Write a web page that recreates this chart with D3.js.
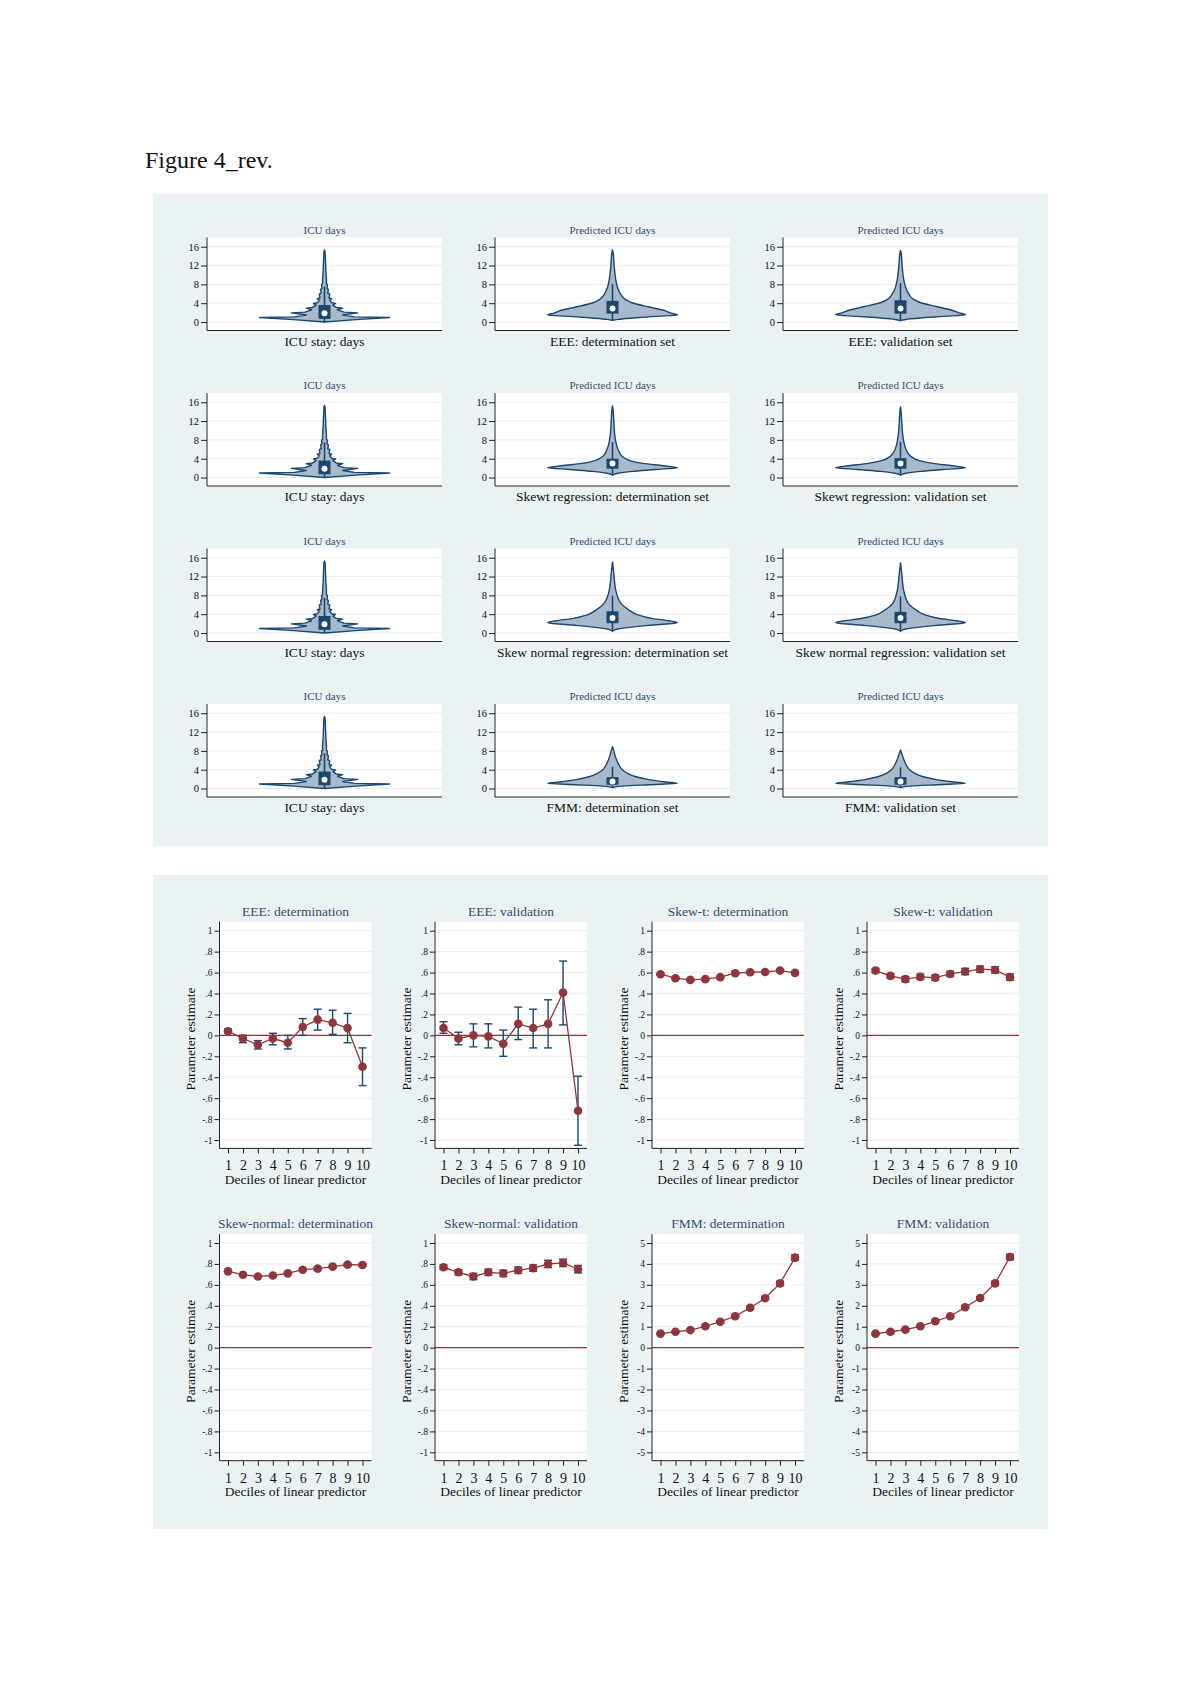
<!DOCTYPE html>
<html>
<head>
<meta charset="utf-8">
<script src="https://cdn.jsdelivr.net/npm/d3@7"></script>
<style>
  body { margin: 0; background: #fff; }
  svg { display: block; font-family: "Liberation Serif", "Times New Roman", serif; }
</style>
</head>
<body>
<div id="fig"></div>
<script>
// ---------- data: violin plots ----------
const violinTitles = ["ICU days", "Predicted ICU days", "Predicted ICU days"];
const violinLabels = [
  ["ICU stay: days", "EEE: determination set", "EEE: validation set"],
  ["ICU stay: days", "Skewt regression: determination set", "Skewt regression: validation set"],
  ["ICU stay: days", "Skew normal regression: determination set", "Skew normal regression: validation set"],
  ["ICU stay: days", "FMM: determination set", "FMM: validation set"]
];
const violinTicks = [0, 4, 8, 12, 16];

// outline: [days, relative half width]
const icuDensity = [[0,0],[0.5,0.48],[0.95,1.0],[1.1,0.46],[1.5,0.28],[1.95,0.51],[2.1,0.3],[2.6,0.2],[2.95,0.28],[3.1,0.18],[3.6,0.13],[3.95,0.17],[4.1,0.11],[4.6,0.08],[4.95,0.11],[5.1,0.07],[5.95,0.08],[6.1,0.05],[6.95,0.06],[7.1,0.04],[7.95,0.045],[8.1,0.03],[9,0.03],[10,0.025],[11,0.02],[12,0.018],[13,0.015],[14,0.012],[15,0.008],[15.3,0]];
const eeeDetDensity = [[0.35,0],[0.57,0.08],[0.85,0.31],[1.2,0.67],[1.5,1.0],[1.9,0.9],[2.5,0.79],[3.2,0.56],[4.05,0.31],[4.77,0.2],[5.83,0.13],[7.25,0.08],[9,0.05],[11.9,0.026],[14.7,0.01],[15.3,0]];
const eeeValDensity = [[0.3,0],[0.55,0.08],[0.85,0.3],[1.2,0.66],[1.55,1.0],[1.95,0.9],[2.6,0.77],[3.3,0.55],[4.1,0.31],[4.8,0.2],[5.9,0.13],[7.3,0.08],[9,0.05],[12,0.025],[14.6,0.01],[15.2,0]];
const skewtDetDensity = [[0.5,0],[0.9,0.08],[1.3,0.3],[1.7,0.66],[2.1,1.0],[2.5,0.78],[3.0,0.47],[3.6,0.27],[4.5,0.15],[5.5,0.1],[7,0.06],[9,0.035],[12,0.02],[14.5,0.008],[15.2,0]];
const skewtValDensity = [[0.5,0],[0.9,0.08],[1.3,0.3],[1.7,0.66],[2.1,1.0],[2.5,0.8],[3.0,0.5],[3.6,0.29],[4.5,0.16],[5.5,0.1],[7,0.06],[9,0.035],[12,0.018],[14.3,0.007],[15.0,0]];
const snDetDensity = [[0.4,0],[0.85,0.08],[1.2,0.26],[1.7,0.62],[2.2,1.0],[2.6,0.87],[3.06,0.62],[3.9,0.38],[4.8,0.26],[6.3,0.13],[9.1,0.05],[12.7,0.02],[15.1,0]];
const snValDensity = [[0.4,0],[0.85,0.08],[1.2,0.26],[1.7,0.62],[2.2,1.0],[2.6,0.87],[3.1,0.6],[3.9,0.37],[4.8,0.25],[6.3,0.12],[9.0,0.05],[12.5,0.02],[14.9,0]];
const fmmDetDensity = [[0.2,0],[0.5,0.15],[0.8,0.56],[1.1,1.0],[1.4,0.82],[1.9,0.56],[2.5,0.36],[3.2,0.23],[4,0.15],[5,0.1],[6,0.065],[7,0.04],[8,0.02],[8.9,0]];
const fmmValDensity = [[0.2,0],[0.5,0.15],[0.8,0.56],[1.1,1.0],[1.4,0.82],[1.9,0.55],[2.5,0.35],[3.2,0.22],[4,0.14],[5,0.09],[6,0.055],[7,0.03],[7.6,0.015],[8.2,0]];

// box: [lower adjacent, q1, median, q3, upper adjacent]
const icuBox = [0, 0.8, 1.85, 3.5, 7.5];
const eeeDetBox = [0.35, 1.9, 2.85, 4.4, 8.1];
const eeeValBox = [0.3, 1.9, 2.9, 4.5, 8.3];
const skewtDetBox = [0.5, 2.0, 3.0, 3.9, 7.5];
const skewtValBox = [0.5, 2.0, 3.0, 4.0, 7.6];
const snDetBox = [0.4, 2.2, 3.2, 4.5, 7.9];
const snValBox = [0.4, 2.2, 3.2, 4.4, 7.8];
const fmmDetBox = [0.2, 0.9, 1.5, 2.3, 4.6];
const fmmValBox = [0.2, 0.9, 1.5, 2.3, 4.5];

// ---------- data: decile plots ----------
const deciles = [1, 2, 3, 4, 5, 6, 7, 8, 9, 10];
const lineTitles = ["EEE: determination", "EEE: validation", "Skew-t: determination", "Skew-t: validation",
  "Skew-normal: determination", "Skew-normal: validation", "FMM: determination", "FMM: validation"];
const unitTicks = [1, 0.8, 0.6, 0.4, 0.2, 0, -0.2, -0.4, -0.6, -0.8, -1];
const unitTickLabels = ["1", ".8", ".6", ".4", ".2", "0", "-.2", "-.4", "-.6", "-.8", "-1"];
const fmmTicks = [5, 4, 3, 2, 1, 0, -1, -2, -3, -4, -5];
const fmmTickLabels = ["5", "4", "3", "2", "1", "0", "-1", "-2", "-3", "-4", "-5"];

const eeeDetEst = [0.04, -0.03, -0.09, -0.03, -0.07, 0.08, 0.15, 0.12, 0.07, -0.30];
const eeeDetLo  = [0.02, -0.07, -0.13, -0.09, -0.13, 0.00, 0.05, 0.01, -0.07, -0.48];
const eeeDetHi  = [0.06, 0.00, -0.05, 0.02, 0.00, 0.16, 0.25, 0.24, 0.21, -0.12];

const eeeValEst = [0.07, -0.03, 0.00, -0.01, -0.08, 0.11, 0.07, 0.11, 0.41, -0.72];
const eeeValLo  = [0.02, -0.09, -0.11, -0.12, -0.20, -0.04, -0.12, -0.12, 0.10, -1.05];
const eeeValHi  = [0.13, 0.03, 0.11, 0.11, 0.05, 0.27, 0.25, 0.34, 0.71, -0.39];

const skewtDetEst = [0.584, 0.546, 0.53, 0.537, 0.556, 0.594, 0.603, 0.606, 0.619, 0.597];
const skewtDetLo  = [0.574, 0.536, 0.52, 0.527, 0.545, 0.583, 0.592, 0.595, 0.607, 0.585];
const skewtDetHi  = [0.594, 0.556, 0.54, 0.547, 0.567, 0.605, 0.614, 0.617, 0.631, 0.609];

const skewtValEst = [0.619, 0.568, 0.537, 0.559, 0.552, 0.587, 0.61, 0.632, 0.625, 0.556];
const skewtValLo  = [0.599, 0.548, 0.512, 0.534, 0.527, 0.562, 0.58, 0.602, 0.595, 0.526];
const skewtValHi  = [0.639, 0.588, 0.562, 0.584, 0.577, 0.612, 0.64, 0.662, 0.655, 0.586];

const snDetEst = [0.729, 0.697, 0.68, 0.69, 0.71, 0.745, 0.755, 0.774, 0.793, 0.79];
const snDetLo  = [0.719, 0.687, 0.67, 0.68, 0.699, 0.734, 0.744, 0.762, 0.781, 0.777];
const snDetHi  = [0.739, 0.707, 0.69, 0.70, 0.721, 0.756, 0.766, 0.786, 0.805, 0.803];

const snValEst = [0.768, 0.72, 0.68, 0.72, 0.71, 0.74, 0.76, 0.80, 0.81, 0.75];
const snValLo  = [0.748, 0.695, 0.65, 0.69, 0.68, 0.71, 0.73, 0.765, 0.775, 0.715];
const snValHi  = [0.788, 0.745, 0.71, 0.75, 0.74, 0.77, 0.79, 0.835, 0.845, 0.785];

const fmmDetEst = [0.67, 0.76, 0.84, 1.02, 1.24, 1.5, 1.91, 2.36, 3.07, 4.3];
const fmmDetLo  = [0.63, 0.72, 0.80, 0.98, 1.19, 1.45, 1.85, 2.29, 2.97, 4.17];
const fmmDetHi  = [0.71, 0.80, 0.88, 1.06, 1.29, 1.55, 1.97, 2.43, 3.17, 4.43];

const fmmValEst = [0.67, 0.76, 0.86, 1.02, 1.26, 1.5, 1.93, 2.37, 3.07, 4.33];
const fmmValLo  = [0.63, 0.72, 0.82, 0.98, 1.21, 1.45, 1.87, 2.30, 2.97, 4.20];
const fmmValHi  = [0.71, 0.80, 0.90, 1.06, 1.31, 1.55, 1.99, 2.44, 3.17, 4.46];

// ---------- colours ----------
const bgBlue = "#eaf2f3";
const gridCol = "#e6eef1";
const navy = "#1a476f";
const maroon = "#90353b";
const zeroRed = "#a32a3c";
const violinFill = "#a9b9cc";
const titleCol = "#3b4c6b";

const width = 1200, height = 1698;

const svg = d3.select("#fig").append("svg")
  .attr("width", width)
  .attr("height", height);

svg.append("rect").attr("width", width).attr("height", height).attr("fill", "#fff");

svg.append("text")
  .attr("x", 145).attr("y", 168)
  .style("font-size", "24px")
  .attr("fill", "#111")
  .text("Figure 4_rev.");

// panel backgrounds
svg.append("rect").attr("x", 153).attr("y", 194).attr("width", 895).attr("height", 652).attr("fill", bgBlue);
svg.append("rect").attr("x", 153).attr("y", 875).attr("width", 895).attr("height", 654).attr("fill", bgBlue);

// ================= violins =================
const vColX = [207, 495, 783];
const vRowY = [237.5, 393, 548.5, 704];
const vW = 235, vH = 93;

const violinData = [
  [[icuDensity, icuBox], [eeeDetDensity, eeeDetBox], [eeeValDensity, eeeValBox]],
  [[icuDensity, icuBox], [skewtDetDensity, skewtDetBox], [skewtValDensity, skewtValBox]],
  [[icuDensity, icuBox], [snDetDensity, snDetBox], [snValDensity, snValBox]],
  [[icuDensity, icuBox], [fmmDetDensity, fmmDetBox], [fmmValDensity, fmmValBox]]
];

violinData.forEach(function (row, r) {
  row.forEach(function (cell, c) {
    const dens = cell[0], box = cell[1];
    const g = svg.append("g").attr("transform", "translate(" + vColX[c] + "," + vRowY[r] + ")");
    const y = d3.scaleLinear().domain([-1.8, 17.96]).range([vH, 0]);
    const hw = d3.scaleLinear().domain([0, 1]).range([0, 65]);
    const cx = vW / 2;

    g.append("rect").attr("width", vW).attr("height", vH).attr("fill", "#fff");
    g.selectAll(".grid").data(violinTicks).enter().append("line")
      .attr("x1", 0).attr("x2", vW)
      .attr("y1", d => y(d)).attr("y2", d => y(d))
      .attr("stroke", gridCol).attr("stroke-width", 1);

    // violin body
    const area = d3.area()
      .y(d => y(d[0]))
      .x0(d => cx - hw(d[1]))
      .x1(d => cx + hw(d[1]))
      .curve(c === 0 ? d3.curveLinear : d3.curveMonotoneY);
    g.append("path").datum(dens).attr("d", area)
      .attr("fill", violinFill).attr("stroke", navy).attr("stroke-width", 1.4)
      .attr("stroke-linejoin", "round");

    // whisker, box, median
    g.append("line").attr("x1", cx).attr("x2", cx)
      .attr("y1", y(box[0])).attr("y2", y(box[4]))
      .attr("stroke", navy).attr("stroke-width", 1.6);
    g.append("rect").attr("x", cx - 5.5).attr("width", 11)
      .attr("y", y(box[3])).attr("height", y(box[1]) - y(box[3]))
      .attr("fill", navy).attr("stroke", navy);
    g.append("circle").attr("cx", cx).attr("cy", y(box[2])).attr("r", 3).attr("fill", "#fff");

    // axes
    const ya = g.append("g").call(d3.axisLeft(y).tickValues(violinTicks).tickSize(6).tickPadding(2));
    ya.select(".domain").attr("d", "M0," + vH + "V0").attr("stroke", "#222");
    ya.selectAll(".tick line").attr("stroke", "#222");
    ya.selectAll(".tick text").style("font-size", "10.5px").style("font-family", "Liberation Serif").attr("fill", "#111");
    g.append("line").attr("x1", 0).attr("x2", vW).attr("y1", vH).attr("y2", vH).attr("stroke", "#222").attr("stroke-width", 1.2);

    g.append("text").attr("x", cx).attr("y", -4).attr("text-anchor", "middle")
      .style("font-size", "11px").attr("fill", titleCol).text(violinTitles[c]);
    g.append("text").attr("x", cx).attr("y", 108).attr("text-anchor", "middle")
      .style("font-size", "13.5px").attr("fill", "#111").text(violinLabels[r][c]);
  });
});

// ================= decile plots =================
const lColX = [219.5, 435, 652, 867];
const lRowY = [921.7, 1234];
const lW = 152, lH = 226.7;

const lineSeries = [
  [eeeDetEst, eeeDetLo, eeeDetHi], [eeeValEst, eeeValLo, eeeValHi],
  [skewtDetEst, skewtDetLo, skewtDetHi], [skewtValEst, skewtValLo, skewtValHi],
  [snDetEst, snDetLo, snDetHi], [snValEst, snValLo, snValHi],
  [fmmDetEst, fmmDetLo, fmmDetHi], [fmmValEst, fmmValLo, fmmValHi]
];

lineSeries.forEach(function (s, i) {
  const r = Math.floor(i / 4), c = i % 4;
  const isFmm = i >= 6;
  const ticks = isFmm ? fmmTicks : unitTicks;
  const tickLabels = isFmm ? fmmTickLabels : unitTickLabels;
  const g = svg.append("g").attr("transform", "translate(" + lColX[c] + "," + lRowY[r] + ")");

  const x = d3.scaleLinear().domain([1, 10]).range([8.5, 143]);
  const y = d3.scaleLinear().domain(isFmm ? [-5.4, 5.43] : [-1.08, 1.086]).range([lH, 0]);

  g.append("rect").attr("width", lW).attr("height", lH).attr("fill", "#fff");
  g.selectAll(".grid").data(ticks).enter().append("line")
    .attr("x1", 0).attr("x2", lW)
    .attr("y1", d => y(d)).attr("y2", d => y(d))
    .attr("stroke", gridCol).attr("stroke-width", 1);

  // zero reference
  g.append("line").attr("x1", 0).attr("x2", lW).attr("y1", y(0)).attr("y2", y(0))
    .attr("stroke", zeroRed).attr("stroke-width", 1.3);

  const pts = deciles.map((d, k) => ({ d: d, est: s[0][k], lo: s[1][k], hi: s[2][k] }));

  // confidence intervals
  const ci = g.append("g").attr("stroke", navy).attr("stroke-width", 1.4);
  ci.selectAll(".v").data(pts).enter().append("line")
    .attr("x1", d => x(d.d)).attr("x2", d => x(d.d))
    .attr("y1", d => y(d.lo)).attr("y2", d => y(d.hi));
  ci.selectAll(".lo").data(pts).enter().append("line")
    .attr("x1", d => x(d.d) - 4).attr("x2", d => x(d.d) + 4)
    .attr("y1", d => y(d.lo)).attr("y2", d => y(d.lo));
  ci.selectAll(".hi").data(pts).enter().append("line")
    .attr("x1", d => x(d.d) - 4).attr("x2", d => x(d.d) + 4)
    .attr("y1", d => y(d.hi)).attr("y2", d => y(d.hi));

  // estimates
  g.append("path").datum(pts)
    .attr("d", d3.line().x(d => x(d.d)).y(d => y(d.est)))
    .attr("fill", "none").attr("stroke", maroon).attr("stroke-width", 1.3);
  g.selectAll(".pt").data(pts).enter().append("circle")
    .attr("cx", d => x(d.d)).attr("cy", d => y(d.est)).attr("r", 4.3)
    .attr("fill", maroon);

  // axes
  const ya = g.append("g").call(d3.axisLeft(y).tickValues(ticks)
    .tickFormat((d, k) => tickLabels[k]).tickSize(5).tickPadding(2));
  ya.select(".domain").attr("d", "M0," + lH + "V0").attr("stroke", "#222");
  ya.selectAll(".tick line").attr("stroke", "#222");
  ya.selectAll(".tick text").style("font-size", "9.5px").style("font-family", "Liberation Serif").attr("fill", "#111");

  const xa = g.append("g").attr("transform", "translate(0," + lH + ")")
    .call(d3.axisBottom(x).tickValues(deciles).tickFormat(d3.format("d")).tickSize(5).tickPadding(7));
  xa.select(".domain").attr("d", "M0,0H" + lW).attr("stroke", "#222");
  xa.selectAll(".tick line").attr("stroke", "#222");
  xa.selectAll(".tick text").style("font-size", "14px").style("font-family", "Liberation Serif").attr("fill", "#111");

  g.append("text").attr("x", lW / 2).attr("y", lH + 35.5).attr("text-anchor", "middle")
    .style("font-size", "13.5px").attr("fill", "#111").text("Deciles of linear predictor");
  g.append("text").attr("transform", "translate(-29," + (lH / 2 + 4) + ") rotate(-90)")
    .attr("text-anchor", "middle").attr("dy", "0.35em")
    .style("font-size", "13.5px").attr("fill", "#111").text("Parameter estimate");
  g.append("text").attr("x", lW / 2).attr("y", -6).attr("text-anchor", "middle")
    .style("font-size", "13.5px").attr("fill", titleCol).text(lineTitles[i]);
});
</script>
</body>
</html>
